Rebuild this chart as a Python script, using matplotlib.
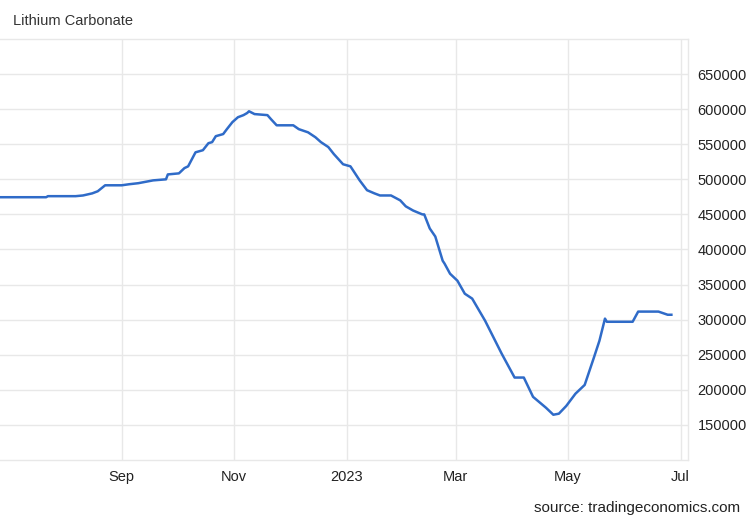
import pandas as pd
import matplotlib
matplotlib.use("Agg")
import matplotlib.pyplot as plt
import matplotlib.dates as mdates

# price readings, CNY/T
dates = ["2022-06-27", "2022-07-22", "2022-07-23", "2022-08-07", "2022-08-11",
         "2022-08-16", "2022-08-19", "2022-08-23", "2022-09-01", "2022-09-05",
         "2022-09-10", "2022-09-13", "2022-09-18", "2022-09-25", "2022-09-26",
         "2022-10-02", "2022-10-05", "2022-10-07", "2022-10-11", "2022-10-15",
         "2022-10-18", "2022-10-20", "2022-10-22", "2022-10-26", "2022-10-28",
         "2022-10-31", "2022-11-03", "2022-11-06", "2022-11-08", "2022-11-09",
         "2022-11-12", "2022-11-19", "2022-11-21", "2022-11-24", "2022-12-03",
         "2022-12-06", "2022-12-11", "2022-12-15", "2022-12-18", "2022-12-22",
         "2022-12-25", "2022-12-30", "2023-01-03", "2023-01-08", "2023-01-12",
         "2023-01-16", "2023-01-19", "2023-01-25", "2023-01-30", "2023-02-02",
         "2023-02-06", "2023-02-11", "2023-02-12", "2023-02-15", "2023-02-18",
         "2023-02-22", "2023-02-23", "2023-02-26", "2023-03-02", "2023-03-06",
         "2023-03-10", "2023-03-17", "2023-03-26", "2023-04-02", "2023-04-07",
         "2023-04-12", "2023-04-19", "2023-04-23", "2023-04-26", "2023-04-30",
         "2023-05-05", "2023-05-10", "2023-05-15", "2023-05-18", "2023-05-21",
         "2023-05-22", "2023-06-05", "2023-06-08", "2023-06-19", "2023-06-24",
         "2023-06-26"]
prices = [474500, 474500, 476000, 476000, 477000,
          480000, 483000, 491500, 491500, 493000,
          494500, 496000, 498500, 500000, 507000,
          508500, 516000, 518500, 538500, 541500,
          551500, 553000, 561500, 564500, 571500,
          581500, 588500, 591500, 594500, 597000,
          593000, 591500, 585500, 577000, 577000,
          571500, 567000, 560000, 553000, 546000,
          536000, 521500, 518500, 498500, 484500,
          480000, 477000, 477000, 470000, 461500,
          455500, 450000, 450000, 430000, 418500,
          384000, 380000, 365500, 355500, 337000,
          330000, 298500, 251500, 217500, 217500,
          190000, 174500, 164500, 166000, 177000,
          194500, 207000, 246000, 270000, 301500,
          297000, 297000, 311500, 311500, 307000,
          307000]

y_ticks = [150000, 200000, 250000, 300000, 350000, 400000, 450000, 500000, 550000, 600000, 650000]
x_ticks = ["2022-09-01", "2022-11-01", "2023-01-01", "2023-03-01", "2023-05-01", "2023-07-01"]
x_labels = ["Sep", "Nov", "2023", "Mar", "May", "Jul"]

plt.rcParams['font.family'] = ['Liberation Sans', 'DejaVu Sans']
grid_c = "#e8e8e8"

fig = plt.figure(figsize=(7.5, 5.2), dpi=100)
ax = fig.add_axes([0.0, 0.1154, 0.9173, 0.8096])

ax.plot(pd.to_datetime(dates), prices, color="#2f6bc8", lw=1.8, solid_joinstyle="round")

ax.set_ylim(100000, 700000)
ax.set_xlim(pd.Timestamp("2022-06-27"), pd.Timestamp("2023-07-05"))

ax.set_yticks(y_ticks)
ax.set_yticklabels([str(v) for v in y_ticks])
ax.yaxis.tick_right()
ax.set_xticks(pd.to_datetime(x_ticks))
ax.set_xticklabels(x_labels)
ax.tick_params(axis="both", length=0, labelsize=10.5, colors="#222222")
ax.tick_params(axis="y", pad=7)
ax.tick_params(axis="x", pad=7)

ax.grid(True, color=grid_c, lw=1)
ax.set_axisbelow(True)
for s in ["top", "right", "bottom"]:
    ax.spines[s].set_color(grid_c)
    ax.spines[s].set_linewidth(1)
ax.spines["left"].set_visible(False)

fig.text(0.017, 0.96, "Lithium Carbonate", fontsize=10.5, color="#333333", va="center", ha="left")
fig.text(0.987, 0.01, "source: tradingeconomics.com", fontsize=11, color="#222222", va="bottom", ha="right")

fig.savefig("out.png", dpi=100)
